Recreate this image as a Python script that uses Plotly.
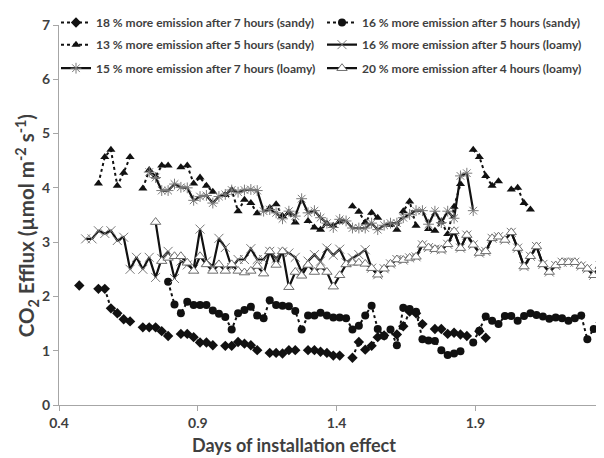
import plotly.graph_objects as go

# measurement times (days since installation)
days = [0.473, 0.496, 0.519, 0.542, 0.565, 0.587, 0.610, 0.633, 0.656, 0.679,
        0.702, 0.725, 0.748, 0.770, 0.793, 0.816, 0.839, 0.862, 0.885, 0.908,
        0.931, 0.954, 0.976, 0.999, 1.022, 1.045, 1.068, 1.091, 1.114, 1.137,
        1.159, 1.182, 1.205, 1.228, 1.251, 1.274, 1.297, 1.320, 1.342, 1.365,
        1.388, 1.411, 1.434, 1.457, 1.480, 1.503, 1.526, 1.548, 1.571, 1.594,
        1.617, 1.640, 1.663, 1.686, 1.709, 1.731, 1.754, 1.777, 1.800, 1.823,
        1.846, 1.869, 1.892, 1.914, 1.937, 1.960, 1.983, 2.006, 2.029, 2.052,
        2.075, 2.098, 2.120, 2.143, 2.166, 2.189, 2.212, 2.235, 2.258, 2.281,
        2.303, 2.326, 2.349, 2.372]

N = None
sandy_18_7h = [2.20, N, N, 2.14, 2.14, 1.78, 1.69, 1.58, 1.54, N,
               1.43, 1.43, 1.43, 1.36, 1.27, N, 1.31, 1.31, 1.25, 1.15,
               1.15, 1.10, N, 1.09, 1.09, 1.16, 1.13, 1.10, 1.01, N,
               0.96, 0.96, 0.95, 1.01, 1.01, N, 1.01, 1.01, 0.98, 0.96,
               0.91, 0.91, N, 0.87, 1.16, 1.02, 1.09, 1.25, 1.28, N,
               1.30, 1.45, 1.72, 1.69, 1.49, N, 1.40, 1.40, 1.31, 1.33,
               1.30, 1.27, N, 1.36, 1.24, N, N, N, N, N,
               N, N, N, N, N, N, N, N, N, N,
               N, N, N, N]

sandy_16_5h = [N, N, N, N, N, N, N, N, N, N,
               N, N, N, N, 2.27, 1.85, 1.69, 1.90, 1.84, 1.84,
               1.84, 1.74, 1.68, 1.62, 1.39, 1.69, 1.75, 1.81, 1.65, 1.60,
               1.93, 1.84, 1.83, 1.82, 1.73, 1.39, 1.65, 1.65, 1.70, 1.65,
               1.61, 1.61, 1.60, 1.39, 1.46, 1.65, 1.83, 1.40, 1.27, 1.39,
               1.10, 1.79, 1.77, 1.72, 1.21, 1.19, 1.18, 1.01, 0.92, 0.95,
               0.99, N, 1.15, 1.37, 1.63, 1.55, 1.49, 1.64, 1.64, 1.55,
               1.64, 1.69, 1.66, 1.63, 1.59, 1.61, 1.60, 1.55, 1.60, 1.65,
               1.21, 1.40, 1.65, N]

sandy_13_5h = [N, N, N, 4.08, 4.57, 4.70, 4.04, 4.28, 4.57, N,
               3.99, 4.33, 4.21, 4.41, 4.41, N, 4.38, 4.41, 4.08, 4.19,
               4.04, 3.93, N, 3.87, 3.96, 3.57, 3.78, 3.72, 3.53, N,
               3.63, 3.70, 3.48, 3.54, 3.36, N, 3.39, 3.27, 3.23, 3.34,
               3.30, 3.38, N, 3.66, 3.56, 3.36, 3.54, 3.45, N, 3.32,
               3.23, 3.57, 3.75, 3.30, N, 3.24, 3.21, 3.38, 3.15, 3.65,
               4.07, N, 4.70, 4.57, 4.22, 4.04, 4.12, N, 3.97, 4.00,
               3.72, 3.60, N, N, N, N, N, N, N, N,
               N, N, N, N]

loamy_16_5h = [N, 3.06, 3.06, 3.21, 3.16, 3.21, 3.03, 3.09, 2.50, 2.72,
               2.50, 2.72, 2.35, 2.70, 2.83, 2.33, 2.65, 2.58, 2.50, 3.24,
               2.65, 2.55, 3.07, 2.90, 2.53, 2.68, 2.68, 2.88, 2.68, 2.68,
               2.83, 2.70, 2.82, 2.80, 2.72, 2.45, 2.65, 2.77, 2.65, 2.89,
               2.76, 2.87, 2.62, 2.71, 2.77, 2.86, 2.52, 2.40, 2.51, 2.60,
               2.68, 2.67, 2.71, 2.73, 2.95, 2.90, 2.87, 2.86, 2.96, 3.20,
               2.89, 3.13, 2.95, 2.80, 2.83, 3.07, 3.10, 3.04, 3.18, 2.89,
               2.55, 2.74, 2.92, 2.59, 2.45, 2.57, 2.63, 2.63, 2.63, 2.56,
               2.51, 2.39, 2.56, 2.47]

loamy_15_7h = [N, N, N, N, N, N, N, N, N, N,
               N, 4.29, 4.19, 3.95, 3.95, 4.07, 4.01, 4.00, 3.77, 3.84,
               3.86, 3.72, 3.84, 3.88, 3.96, 3.92, 3.96, 3.97, 3.95, 3.57,
               3.60, 3.54, 3.43, 3.57, 3.48, 3.80, 3.54, 3.58, 3.45, 3.35,
               3.27, 3.42, 3.39, 3.26, 3.26, 3.26, 3.35, 3.23, 3.31, 3.35,
               3.35, 3.45, 3.51, 3.58, 3.58, 3.33, 3.57, 3.36, 3.57, 3.44,
               4.22, 4.27, 3.58, N, N, N, N, N, N, N,
               N, N, N, N, N, N, N, N, N, N,
               N, N, N, N]

loamy_20_4h = [N, N, N, N, N, N, N, N, N, N,
               N, N, 3.37, 2.65, 2.71, 2.74, 2.74, 2.62, 2.47, 2.74,
               2.59, 2.47, 2.59, 2.47, 2.59, 2.47, 2.44, 2.47, 2.56, 2.42,
               2.83, 2.58, 2.83, 2.17, 2.45, 2.38, 2.58, 2.45, 2.55, 2.45,
               2.18, 2.39, 2.59, 2.62, 2.62, 2.60, 2.52, 2.40, 2.51, 2.60,
               2.68, 2.67, 2.71, 2.73, 2.95, 2.90, 2.87, 2.86, 2.96, 3.20,
               2.89, 3.13, 2.95, 2.80, 2.83, 3.07, 3.10, 3.04, 3.18, 2.89,
               2.55, 2.74, 2.92, 2.59, 2.45, 2.57, 2.63, 2.63, 2.63, 2.56,
               2.51, 2.39, 2.56, 2.47]

series = [
    ("18 % more emission after 7 hours (sandy)", sandy_18_7h, "dot", "diamond"),
    ("16 % more emission after 5 hours (sandy)", sandy_16_5h, "dot", "circle"),
    ("13 % more emission after 5 hours (sandy)", sandy_13_5h, "dot", "triangle-up"),
    ("16 % more emission after 5 hours (loamy)", loamy_16_5h, "solid", "x-thin-open"),
    ("15 % more emission after 7 hours (loamy)", loamy_15_7h, "solid", "asterisk-open"),
    ("20 % more emission after 4 hours (loamy)", loamy_20_4h, "solid", "triangle-up"),
]

FONT = "Lato"
TXT = "#3f3f3f"
# the page body has an 8px margin, so the figure is drawn 8px in from the corner
OFF = 8
PLOT_L, PLOT_R, PLOT_T, PLOT_B = 59, 604, 18, 405  # plot area, page pixels


def px_x(p):
    return (p - PLOT_L) / (PLOT_R - PLOT_L)


def px_y(p):
    return (PLOT_B - p) / (PLOT_B - PLOT_T)


fig = go.Figure()
legends = {}
for k, (name, vals, dash, sym) in enumerate(series):
    if dash == "dot":
        marker = dict(symbol=sym, size=8, color="#111111")
    elif sym == "triangle-up":
        marker = dict(symbol=sym, size=9, color="white", line=dict(color="#6e6e6e", width=1))
    else:
        marker = dict(symbol=sym, size=9, color="#7a7a7a", line=dict(color="#7a7a7a", width=1))
    lg = "legend" if k == 0 else f"legend{k + 1}"
    fig.add_trace(go.Scatter(
        x=days, y=vals, name=name, mode="lines+markers", legend=lg,
        line=dict(color="#111111", width=2.2 if dash == "solid" else 2, dash=dash),
        marker=marker, connectgaps=False,
    ))
    # two columns, three rows
    col, row = k % 2, k // 2
    legends[lg] = dict(
        x=px_x([56, 322][col]), y=px_y([15, 38, 62][row]),
        xanchor="left", yanchor="middle", itemwidth=30,
        font=dict(size=12, family=FONT, color=TXT, weight="bold"),
        bgcolor="rgba(0,0,0,0)",
    )

fig.update_layout(
    width=604 - OFF, height=458 - OFF,
    margin=dict(l=PLOT_L - OFF, r=0, t=PLOT_T - OFF, b=458 - PLOT_B),
    paper_bgcolor="white", plot_bgcolor="white",
    font=dict(family=FONT, color=TXT),
    showlegend=True,
    **legends,
    xaxis=dict(
        range=[0.4, 2.363], tick0=0.4, dtick=0.5, showgrid=False, zeroline=False,
        showline=True, linecolor="#a6a6a6", linewidth=1, automargin=False,
        ticks="outside", ticklen=5, tickcolor="#a6a6a6",
        tickfont=dict(size=14, family=FONT, color=TXT, weight="bold"),
    ),
    yaxis=dict(
        range=[0, 7], dtick=1, showgrid=False, zeroline=False,
        showline=True, linecolor="#a6a6a6", linewidth=1, automargin=False,
        ticks="outside", ticklen=5, tickcolor="#a6a6a6",
        tickfont=dict(size=14, family=FONT, color=TXT, weight="bold"),
    ),
    annotations=[
        dict(text="Days of installation effect", xref="paper", yref="paper",
             x=px_x(294), y=px_y(446), xanchor="center", yanchor="middle",
             showarrow=False,
             font=dict(size=18, family=FONT, color=TXT, weight="bold")),
        dict(text="CO<sub>2</sub> Efflux (µmol m<sup>-2</sup> s<sup>-1</sup>)",
             xref="paper", yref="paper", x=px_x(27), y=px_y(223),
             xanchor="center", yanchor="middle", textangle=-90, showarrow=False,
             font=dict(size=20.5, family=FONT, color=TXT, weight="bold")),
    ],
)

fig.write_html("out.html")
